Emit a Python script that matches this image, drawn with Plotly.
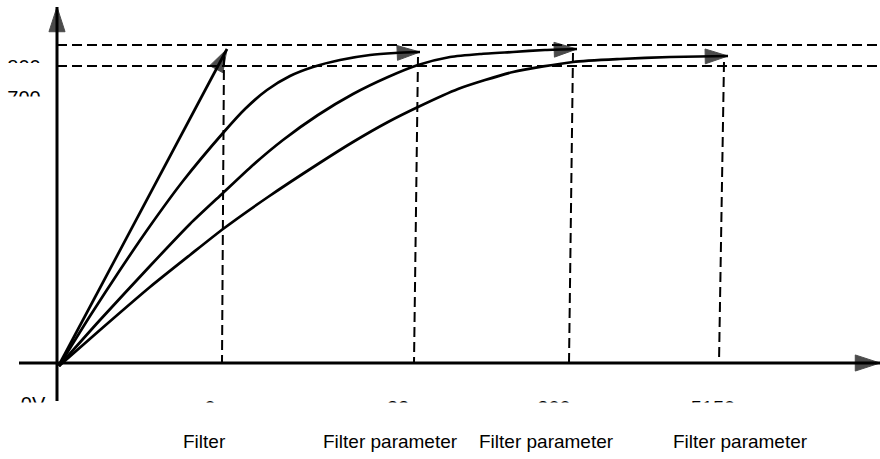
import plotly.graph_objects as go

# ---- data (units: time offset / output level) ----
steps_x = [0, 168]
steps_y = [0, 316]

curve_a_x = [0, 31, 61, 91, 124, 164, 186, 208, 231, 254, 281, 311, 336, 361]
curve_a_y = [-1, 49, 95, 139, 184, 232, 256, 275, 289, 298, 305, 310, 312, 313]

curve_b_x = [0, 41, 91, 131, 164, 194, 224, 259, 294, 329, 359, 391, 421, 454, 486, 518]
curve_b_y = [-1, 45, 99, 141, 172, 200, 225, 250, 271, 288, 300, 308, 311, 313, 315, 316]

curve_c_x = [0, 41, 91, 131, 164, 209, 259, 294, 329, 359, 399, 454, 514, 561, 611, 669]
curve_c_y = [-1, 35, 78, 110, 136, 168, 201, 223, 243, 258, 276, 293, 303, 306, 308, 309]

level_hi = 320
level_lo = 299

guide_top_x = [165, 359, 514, 665]
guide_top_y = [310, 308, 312, 303]
guide_bot_x = [163, 355, 510, 660]
guide_bot_y = [2, 2, 2, 2]

tick_labels = ["0", "32", "200", "5150"]
tick_x = [151, 339, 495, 654]
level_labels = ["800", "700"]
level_label_y = [296, 265]
zero_label = "0V"
bottom_labels = ["Filter", "Filter parameter", "Filter parameter", "Filter parameter"]
bottom_x = [145, 331, 487, 681]

X0, X1 = -59, 821
Y0, Y1 = -94, 365
FONT = "Arial, Liberation Sans, sans-serif"

fig = go.Figure()

def arrow_trace(xs, ys, width, head):
    n = len(xs)
    fig.add_trace(go.Scatter(
        x=xs, y=ys, mode="lines+markers",
        line=dict(color="black", width=width, shape="spline", smoothing=0.6),
        marker=dict(symbol="arrow", angleref="previous", color="black",
                    size=[0] * (n - 1) + [head],
                    line=dict(color="black", width=1)),
        hoverinfo="skip", showlegend=False, cliponaxis=False))

# axes
arrow_trace([-40, 821], [2, 2], 3, 26)
arrow_trace([-2, -2], [-36, 358], 3, 26)

# dashed level lines
for lv in (level_hi, level_lo):
    fig.add_trace(go.Scatter(x=[-2, X1], y=[lv, lv], mode="lines",
                             line=dict(color="black", width=2, dash="10px,5px"),
                             hoverinfo="skip", showlegend=False))
# dashed vertical guides
for xt, yt, xb, yb in zip(guide_top_x, guide_top_y, guide_bot_x, guide_bot_y):
    fig.add_trace(go.Scatter(x=[xt, xb], y=[yt, yb], mode="lines",
                             line=dict(color="black", width=2, dash="10px,5px"),
                             hoverinfo="skip", showlegend=False))

# responses
arrow_trace(steps_x, steps_y, 2.7, 24)
arrow_trace(curve_a_x, curve_a_y, 2.7, 24)
arrow_trace(curve_b_x, curve_b_y, 2.7, 24)
arrow_trace(curve_c_x, curve_c_y, 2.7, 24)

# partly hidden labels
fig.add_trace(go.Scatter(x=[-35, -35], y=level_label_y, mode="text", text=level_labels,
                         textfont=dict(family=FONT, size=20, color="black"),
                         textposition="middle center", hoverinfo="skip", showlegend=False))
fig.add_trace(go.Scatter(x=[-26], y=[-41], mode="text", text=[zero_label],
                         textfont=dict(family=FONT, size=20, color="black"),
                         textposition="middle center", hoverinfo="skip", showlegend=False))
fig.add_trace(go.Scatter(x=tick_x, y=[-45] * len(tick_x), mode="text", text=tick_labels,
                         textfont=dict(family=FONT, size=20, color="black"),
                         textposition="middle center", hoverinfo="skip", showlegend=False))

shapes = [
    dict(type="rect", xref="x", yref="y", x0=X0, x1=X1, y0=-37.5, y1=-64,
         fillcolor="white", line=dict(width=0), layer="above"),
    dict(type="rect", xref="x", yref="y", x0=X0, x1=-7, y0=302, y1=276,
         fillcolor="white", line=dict(width=0), layer="above"),
    dict(type="rect", xref="x", yref="y", x0=X0, x1=-7, y0=268.5, y1=240,
         fillcolor="white", line=dict(width=0), layer="above"),
]

annotations = [dict(x=bx, y=-76, xref="x", yref="y", text=t, showarrow=False,
                    font=dict(family=FONT, size=19, color="black"))
               for bx, t in zip(bottom_x, bottom_labels)]

fig.update_layout(
    width=880, height=459,
    margin=dict(l=0, r=0, t=0, b=0),
    paper_bgcolor="white", plot_bgcolor="white",
    xaxis=dict(range=[X0, X1], visible=False, fixedrange=True),
    yaxis=dict(range=[Y0, Y1], visible=False, fixedrange=True),
    shapes=shapes, annotations=annotations,
    showlegend=False,
)

fig.write_html("out.html", config={"displayModeBar": False},
               post_script="document.body.style.margin='0px';document.body.style.overflow='hidden';")
